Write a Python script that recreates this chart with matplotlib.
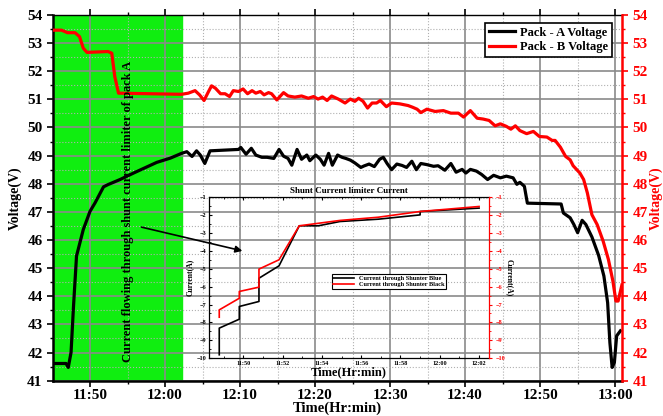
import matplotlib
matplotlib.use("Agg")
import matplotlib.pyplot as plt
from matplotlib.ticker import MultipleLocator, FuncFormatter

# time values are minutes after 11:00
pack_a_t = [45.1, 46.8, 47.1, 47.47, 47.8, 48.2, 49.1, 50.0, 50.67, 51.8, 52.4, 54.0,
            55.8, 58.9, 60.7, 62.2, 62.9, 63.6, 64.2, 64.7, 65.3, 66.0, 69.8, 70.1,
            70.8, 71.5, 72.1, 72.9, 73.6, 74.5, 75.2, 75.8, 76.4, 76.9, 77.6, 78.2,
            78.9, 79.3, 80.1, 80.7, 81.2, 81.8, 82.3, 83.0, 83.6, 84.1, 84.7, 85.3,
            86.1, 86.5, 87.2, 87.9, 88.6, 89.1, 89.6, 90.2, 90.9, 91.6, 92.2, 92.9,
            93.5, 94.1, 94.9, 95.8, 96.4, 97.3, 98.1, 98.8, 99.6, 100.1, 100.7, 101.5,
            102.2, 103.0, 103.8, 104.7, 105.5, 106.4, 106.9, 107.3, 107.9, 108.3,
            112.8, 113.1, 114.0, 114.5, 115.0, 115.6, 116.1, 116.9, 117.8, 118.5,
            119.0, 119.3, 119.6, 119.9, 120.2, 120.7]
pack_a_v = [41.61, 41.61, 41.47, 42.0, 43.65, 45.43, 46.37, 47.02, 47.32, 47.89, 47.97, 48.15,
            48.38, 48.76, 48.91, 49.08, 49.14, 48.97, 49.17, 49.02, 48.72, 49.17, 49.22, 49.29,
            49.05, 49.26, 49.02, 48.94, 48.94, 48.90, 49.22, 48.98, 48.90, 48.66, 49.22, 48.87,
            49.02, 48.82, 49.02, 48.87, 48.66, 49.08, 48.66, 49.02, 48.94, 48.90, 48.84, 48.74,
            48.58, 48.63, 48.70, 48.61, 48.87, 48.94, 48.72, 48.50, 48.70, 48.65, 48.58, 48.80,
            48.50, 48.72, 48.68, 48.62, 48.64, 48.48, 48.72, 48.41, 48.51, 48.38, 48.51, 48.45,
            48.33, 48.15, 48.30, 48.21, 48.27, 48.21, 47.98, 48.05, 47.91, 47.31,
            47.28, 46.96, 46.79, 46.55, 46.26, 46.70, 46.55, 46.11, 45.45, 44.72,
            43.77, 42.35, 41.47, 41.65, 42.59, 42.77]

pack_b_t = [45.1, 46.2, 47.0, 48.0, 48.6, 49.1, 49.6, 52.4, 52.9, 53.3, 53.8, 62.2,
            63.1, 64.0, 64.6, 65.2, 65.8, 66.2, 66.7, 67.4, 68.0, 68.6, 69.1, 69.8,
            70.4, 71.0, 71.6, 72.1, 72.7, 73.2, 73.8, 74.2, 74.9, 75.8, 76.4, 77.3,
            78.2, 79.1, 79.8, 80.4, 81.0, 81.6, 82.2, 83.1, 84.0, 84.7, 85.3, 85.8,
            86.4, 87.0, 87.6, 88.2, 88.7, 89.5, 90.2, 91.3, 92.4, 93.0, 93.6, 94.1,
            94.9, 96.0, 97.1, 98.1, 99.1, 99.8, 100.7, 101.6, 102.4, 103.2, 104.0,
            104.7, 105.5, 106.1, 106.7, 107.3, 108.2, 109.1, 109.9, 110.9, 111.6,
            112.0, 112.7, 113.4, 114.0, 114.4, 115.3, 115.8, 116.3, 116.9, 117.6,
            118.4, 119.1, 119.7, 120.1, 120.4, 120.9]
pack_b_v = [53.46, 53.46, 53.37, 53.37, 53.23, 52.82, 52.67, 52.70, 52.64, 51.81, 51.22, 51.18,
            51.22, 51.31, 51.16, 50.96, 51.28, 51.48, 51.40, 51.20, 51.20, 51.10, 51.31, 51.28,
            51.37, 51.20, 51.31, 51.22, 51.28, 51.16, 51.24, 51.20, 50.98, 51.24, 51.12, 51.08,
            51.12, 51.04, 51.10, 51.01, 51.08, 50.96, 51.12, 51.01, 50.87, 51.01, 50.93, 51.04,
            50.93, 50.69, 50.87, 50.87, 50.96, 50.74, 50.87, 50.84, 50.78, 50.72, 50.65, 50.53,
            50.65, 50.57, 50.60, 50.51, 50.51, 50.37, 50.60, 50.33, 50.30, 50.25, 50.06,
            50.13, 50.04, 49.94, 50.06, 49.89, 49.78, 49.86, 49.68, 49.66, 49.54,
            49.54, 49.30, 48.97, 48.85, 48.64, 48.38, 48.15, 47.67, 46.90, 46.55,
            45.96, 45.31, 44.54, 43.83, 43.83, 44.40]

# inset: current through the shunters
blue_t = [48.78, 48.78, 49.8, 49.8, 50.8, 50.8, 51.82, 52.85, 53.82, 54.92, 56.87, 59.0, 59.0, 62.0]
blue_i = [-9.81, -8.32, -7.82, -7.11, -6.83, -5.53, -4.84, -2.60, -2.60, -2.36, -2.23, -1.99, -1.80, -1.61]
black_t = [48.78, 48.78, 49.8, 49.8, 50.8, 50.8, 51.82, 52.85, 54.92, 56.87, 59.0, 62.0]
black_i = [-7.71, -7.30, -6.65, -6.27, -6.03, -5.02, -4.50, -2.60, -2.30, -2.12, -1.80, -1.52]

shunt_end = 62.3
note = "Current flowing through shunt current limiter of pack A"

plt.rcParams["font.family"] = ["Liberation Serif", "DejaVu Serif"]
plt.rcParams["font.weight"] = "bold"


def hhmm(m, pos=None):
    m = int(round(m))
    return "%d:%02d" % (11 + m // 60, m % 60)


fig = plt.figure(figsize=(6.63, 4.16), dpi=100)
ax = fig.add_axes([0.080, 0.085, 0.858, 0.879])

ax.axvspan(45.07, shunt_end, color="#10ee10", zorder=1)
ax.plot(pack_a_t, pack_a_v, color="black", lw=2.3, label="Pack - A Voltage", zorder=3)
ax.plot(pack_b_t, pack_b_v, color="red", lw=2.3, label="Pack - B Voltage", zorder=3)

ax.set_xlim(45.07, 120.9)
ax.set_ylim(41, 54)
ax.xaxis.set_major_locator(MultipleLocator(10))
ax.xaxis.set_minor_locator(MultipleLocator(5))
ax.xaxis.set_major_formatter(FuncFormatter(hhmm))
ax.yaxis.set_major_locator(MultipleLocator(1))
ax.yaxis.set_minor_locator(MultipleLocator(0.5))
ax.grid(which="major", color="#8a8a8a", lw=1.2, ls="-")
ax.grid(which="minor", color="#b0b0b0", lw=0.8, ls=":")
ax.tick_params(axis="both", which="major", labelsize=11, length=4, width=1.2, direction="out")
ax.tick_params(axis="x", which="major", pad=2)
ax.tick_params(axis="both", which="minor", length=2.5, width=1, direction="out")
ax.tick_params(axis="x", top=True, which="both")
for s in ["left", "bottom"]:
    ax.spines[s].set_linewidth(1.8)
ax.spines["top"].set_linewidth(1.0)
ax.spines["right"].set_visible(False)
ax.set_xlabel("Time(Hr:min)", fontsize=10.5, fontweight="bold", labelpad=0)
ax.set_ylabel("Voltage(V)", fontsize=10, fontweight="bold", labelpad=4)

ax2 = ax.twinx()
ax2.set_ylim(41, 54)
ax2.yaxis.set_major_locator(MultipleLocator(1))
ax2.yaxis.set_minor_locator(MultipleLocator(0.5))
ax2.tick_params(axis="y", which="major", colors="red", labelsize=11, length=4, width=1.2)
ax2.tick_params(axis="y", which="minor", colors="red", length=2.5, width=1)
for s in ["left", "top", "bottom"]:
    ax2.spines[s].set_visible(False)
ax2.spines["right"].set_color("red")
ax2.spines["right"].set_linewidth(1.8)
ax2.set_ylabel("Voltage(V)", color="red", fontsize=10, fontweight="bold", labelpad=1)

leg = ax.legend(loc="upper right", bbox_to_anchor=(0.982, 0.978), fontsize=9,
                frameon=True, fancybox=False, edgecolor="black", framealpha=1,
                handlelength=2.1, handletextpad=0.4, borderpad=0.3, labelspacing=0.2,
                borderaxespad=0)
leg.get_frame().set_linewidth(1.2)
leg.set_zorder(10)

ax.text(55.07, 47.0, note, rotation=90, ha="center", va="center",
        fontsize=9, fontweight="bold", zorder=4)
ax.annotate("", xy=(70.67, 45.59), xytext=(56.5, 46.48),
            arrowprops=dict(arrowstyle="-|>", color="black", lw=1.2,
                            mutation_scale=10), zorder=4)

# inset axes
ins = fig.add_axes([0.315, 0.139, 0.423, 0.387])
ins.patch.set_alpha(0)
ins.plot(blue_t, blue_i, color="black", lw=1.2, label="Current through Shunter Blue")
ins_r = ins.twinx()
ins_r.plot(black_t, black_i, color="red", lw=1.2, label="Current through Shunter Black")
for a in (ins, ins_r):
    a.set_ylim(-10, -1)
    a.yaxis.set_major_locator(MultipleLocator(1))
    a.yaxis.set_minor_locator(MultipleLocator(0.5))
ins.set_xlim(48.25, 62.52)
ins.xaxis.set_major_locator(MultipleLocator(2))
ins.xaxis.set_minor_locator(MultipleLocator(1))
ins.xaxis.set_major_formatter(FuncFormatter(hhmm))
ins.tick_params(axis="both", which="major", labelsize=4.5, length=2.5, width=0.8,
                direction="in", pad=2)
ins.tick_params(axis="both", which="minor", length=1.5, width=0.6, direction="in")
ins.tick_params(axis="x", which="both", top=True)
ins_r.tick_params(axis="y", which="major", colors="red", labelsize=4.5, length=2.5,
                  width=0.8, direction="out", pad=2)
ins_r.tick_params(axis="y", which="minor", colors="red", length=1.5, width=0.6, direction="out")
for s in ["left", "bottom", "top"]:
    ins.spines[s].set_linewidth(0.9)
ins.spines["right"].set_visible(False)
for s in ["left", "bottom", "top"]:
    ins_r.spines[s].set_visible(False)
ins_r.spines["right"].set_color("red")
ins_r.spines["right"].set_linewidth(0.9)
ins.set_title("Shunt Current limiter Current", fontsize=6.5, fontweight="bold", pad=3)
ins.set_xlabel("Time(Hr:min)", fontsize=9, fontweight="bold", labelpad=0)
ins.set_ylabel("Current(A)", fontsize=5.5, fontweight="bold", labelpad=2)
ins_r.set_ylabel("Current(A)", fontsize=5.5, fontweight="bold", labelpad=6, rotation=270)

h1, l1 = ins.get_legend_handles_labels()
h2, l2 = ins_r.get_legend_handles_labels()
il = ins_r.legend(h1 + h2, l1 + l2, loc="upper left", bbox_to_anchor=(0.438, 0.522),
                  fontsize=4.6, frameon=True, fancybox=False, edgecolor="black",
                  framealpha=1, handlelength=3.2, borderpad=0.25, labelspacing=0.1,
                  borderaxespad=0)
il.get_frame().set_linewidth(0.8)

fig.savefig("out.png", dpi=100)
